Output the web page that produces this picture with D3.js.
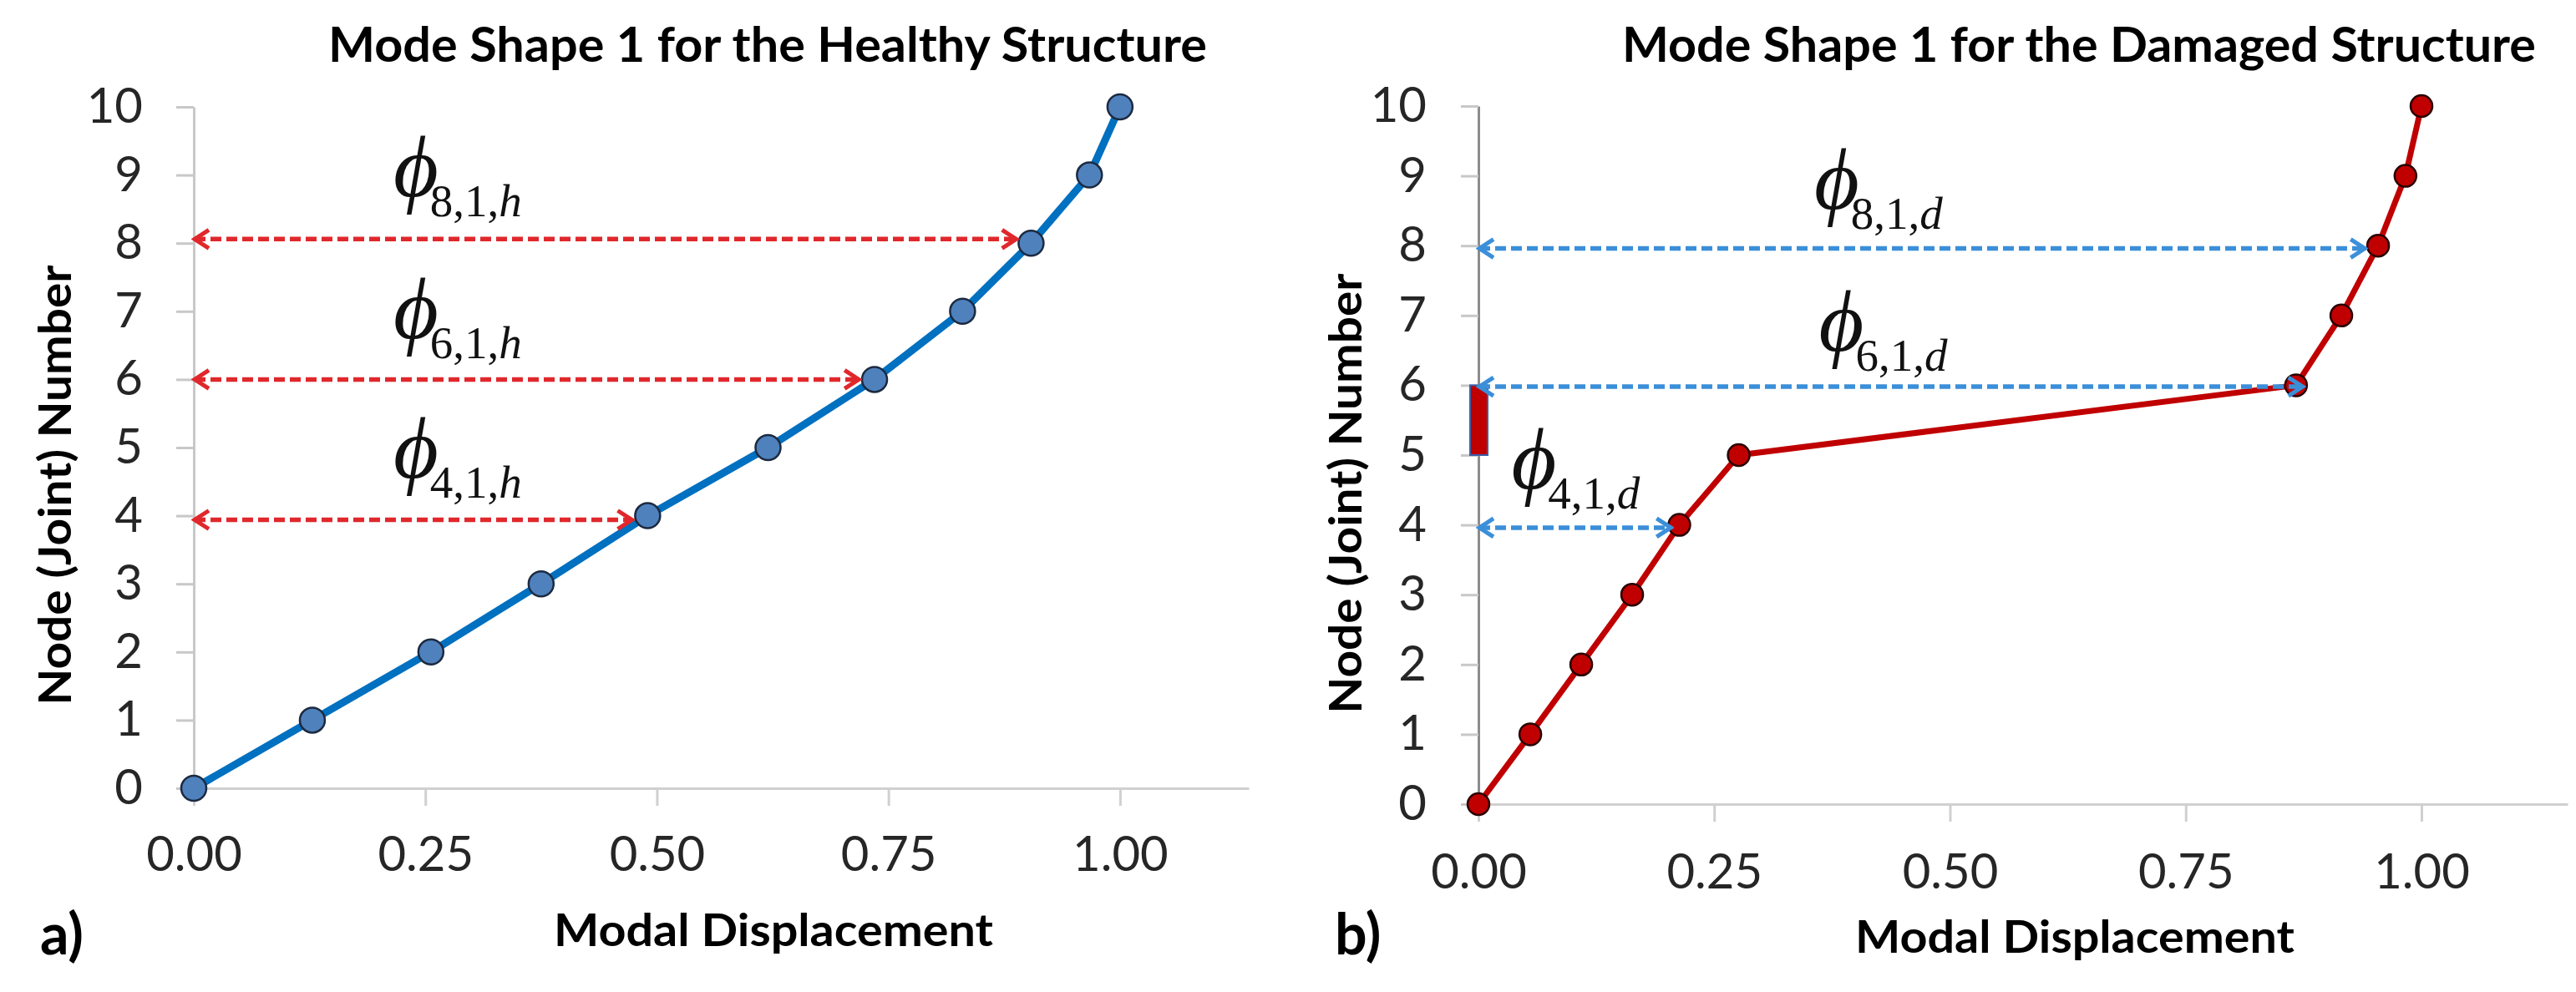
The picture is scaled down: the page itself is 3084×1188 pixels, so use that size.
<!DOCTYPE html>
<html>
<head>
<meta charset="utf-8">
<script src="https://cdn.jsdelivr.net/npm/d3@7"></script>
<style>
  body { margin: 0; background: #fff; }
  svg { display: block; }
  text { font-family: Lato, "Open Sans", sans-serif; }
</style>
</head>
<body>
<svg id="chart" width="3084" height="1188"></svg>
<script>
// node numbers (y) and modal displacements (x)
var nodes = [0, 1, 2, 3, 4, 5, 6, 7, 8, 9, 10];
var healthyDisp = [0, 0.128, 0.256, 0.375, 0.49, 0.62, 0.735, 0.83, 0.904, 0.967, 1.0];
var damagedDisp = [0, 0.055, 0.109, 0.163, 0.213, 0.276, 0.867, 0.915, 0.954, 0.983, 1.0];

var xTicks = [0, 0.25, 0.5, 0.75, 1.0];
var yTicks = [0, 1, 2, 3, 4, 5, 6, 7, 8, 9, 10];

// dimension arrows: node level and where the arrow stops
var healthyArrowNodes = [8.06, 6, 3.94];
var healthyArrowEnds = [0.888, 0.718, 0.473];
var damagedArrowNodes = [7.96, 5.98, 3.96];
var damagedArrowEnds = [0.94, 0.874, 0.204];

// phi labels: subscript text and anchor (displacement, node)
var phiSubs = ["8,1,", "6,1,", "4,1,"];
var healthyPhiX = [0.2155, 0.2155, 0.2155];
var healthyPhiY = [8.39, 6.31, 4.26];
var damagedPhiX = [0.356, 0.361, 0.035];
var damagedPhiY = [8.24, 6.21, 4.23];

// damaged storey marked on the axis
var damagedSpan = [5, 6];

var svg = d3.select("#chart");
svg.append("rect").attr("width", 3084).attr("height", 1188).attr("fill", "#fff");

function panel(o) {
  var x = d3.scaleLinear().domain([0, o.xMax]).range([o.left, o.right]);
  var y = d3.scaleLinear().domain([0, 10]).range([o.bottom, o.top]);
  var g = svg.append("g");

  // axes
  var xa = g.append("g")
    .attr("transform", "translate(0," + o.bottom + ")")
    .call(d3.axisBottom(x).tickValues(xTicks).tickSizeInner(21).tickSizeOuter(0)
      .tickPadding(o.xPad).tickFormat(d3.format(".2f")));
  xa.select(".domain").attr("stroke", "#d0d0d0").attr("stroke-width", 3);
  xa.selectAll(".tick line").attr("stroke", "#d0d0d0").attr("stroke-width", 3);
  xa.selectAll(".tick text").attr("font-size", 58).attr("fill", "#262626")
    .attr("font-family", "Lato, sans-serif");

  var ya = g.append("g")
    .attr("transform", "translate(" + o.left + ",0)")
    .call(d3.axisLeft(y).tickValues(yTicks).tickSizeInner(21).tickSizeOuter(0)
      .tickPadding(o.yPad).tickFormat(d3.format("d")));
  ya.select(".domain").attr("stroke", o.yAxisColor).attr("stroke-width", 3);
  ya.selectAll(".tick line").attr("stroke", "#c8c8c8").attr("stroke-width", 3);
  ya.selectAll(".tick text").attr("font-size", 58).attr("fill", "#262626")
    .attr("font-family", "Lato, sans-serif");

  // damaged storey bar
  if (o.span) {
    g.append("rect")
      .attr("x", x(0) - 10).attr("width", 21)
      .attr("y", y(o.span[1])).attr("height", y(o.span[0]) - y(o.span[1]))
      .attr("fill", "#c00000").attr("stroke", "#3b5ea8").attr("stroke-width", 2);
  }

  var pts = nodes.map(function(n, i) { return { node: n, disp: o.disp[i] }; });

  var line = d3.line()
    .x(function(d) { return x(d.disp); })
    .y(function(d) { return y(d.node); });

  g.append("path").datum(pts)
    .attr("d", line)
    .attr("fill", "none")
    .attr("stroke", o.lineColor)
    .attr("stroke-width", o.lineWidth)
    .attr("stroke-linejoin", "round");

  g.selectAll("circle.pt").data(pts).enter()
    .append("circle").attr("class", "pt")
    .attr("cx", function(d) { return x(d.disp); })
    .attr("cy", function(d) { return y(d.node); })
    .attr("r", o.r)
    .attr("fill", o.dotColor)
    .attr("stroke", o.dotStroke)
    .attr("stroke-width", 2.5);

  // arrow markers
  var mid = "arrow-" + o.id;
  svg.append("defs").append("marker")
    .attr("id", mid)
    .attr("viewBox", "-22 -15 26 30")
    .attr("refX", 0).attr("refY", 0)
    .attr("markerWidth", 26).attr("markerHeight", 30)
    .attr("markerUnits", "userSpaceOnUse")
    .attr("orient", "auto-start-reverse")
    .append("path")
    .attr("d", "M-17,-11L0,0L-17,11")
    .attr("fill", "none")
    .attr("stroke", o.arrowColor)
    .attr("stroke-width", 5);

  var arrows = o.arrowNodes.map(function(n, i) { return { node: n, end: o.arrowEnds[i] }; });
  g.selectAll("line.dim").data(arrows).enter()
    .append("line").attr("class", "dim")
    .attr("x1", x(0) + 1)
    .attr("x2", function(d) { return x(d.end); })
    .attr("y1", function(d) { return y(d.node); })
    .attr("y2", function(d) { return y(d.node); })
    .attr("stroke", o.arrowColor)
    .attr("stroke-width", 5.5)
    .attr("stroke-dasharray", "13,6")
    .attr("marker-start", "url(#" + mid + ")")
    .attr("marker-end", "url(#" + mid + ")");

  // phi labels
  phiSubs.forEach(function(s, i) {
    var t = g.append("text")
      .attr("x", x(o.phiX[i]))
      .attr("y", y(o.phiY[i]) - 24)
      .attr("fill", "#111")
      .style("font-family", "'Liberation Serif', 'DejaVu Serif', serif");
    t.append("tspan").attr("font-size", 104).attr("font-style", "italic").text("\u03D5");
    t.append("tspan").attr("font-size", 55).attr("dx", -10).attr("dy", 24).text(s);
    t.append("tspan").attr("font-size", 55).attr("font-style", "italic").text(o.sub);
  });

  // titles and labels
  g.append("text")
    .attr("x", o.titleX).attr("y", 74)
    .attr("font-size", 58).attr("font-weight", "bold").attr("fill", "#000")
    .attr("textLength", o.titleW).attr("lengthAdjust", "spacingAndGlyphs")
    .text(o.title);

  g.append("text")
    .attr("x", o.xLabelX).attr("y", o.xLabelY)
    .attr("font-size", 53).attr("font-weight", "bold").attr("fill", "#000")
    .attr("textLength", 526).attr("lengthAdjust", "spacingAndGlyphs")
    .text("Modal Displacement");

  g.append("text")
    .attr("transform", "translate(" + o.yLabelX + "," + o.yLabelY + ") rotate(-90)")
    .attr("text-anchor", "middle").attr("dy", "0.36em")
    .attr("font-size", 53).attr("font-weight", "bold").attr("fill", "#000")
    .attr("textLength", 527).attr("lengthAdjust", "spacingAndGlyphs")
    .text("Node (Joint) Number");

  g.append("text")
    .attr("x", o.tagX).attr("y", 1143)
    .attr("font-size", 68).attr("font-weight", "bold").attr("fill", "#000")
    .text(o.tag);
}

panel({
  id: "h", xMax: 1.139, left: 232, right: 1495, bottom: 944, top: 128,
  xPad: 37, yPad: 40, yAxisColor: "#c8c8c8",
  disp: healthyDisp, lineColor: "#0070c0", lineWidth: 9, r: 15,
  dotColor: "#4f81bd", dotStroke: "#1c2a40",
  arrowNodes: healthyArrowNodes, arrowEnds: healthyArrowEnds, arrowColor: "#e0282c",
  phiX: healthyPhiX, phiY: healthyPhiY, sub: "h",
  title: "Mode Shape 1 for the Healthy Structure", titleX: 393, titleW: 1052,
  xLabelX: 663, xLabelY: 1133, yLabelX: 66, yLabelY: 581,
  tag: "a)", tagX: 48
});

panel({
  id: "d", xMax: 1.155, left: 1770, right: 3074, bottom: 963, top: 127,
  xPad: 39, yPad: 41, yAxisColor: "#8c8c8c",
  disp: damagedDisp, lineColor: "#c00000", lineWidth: 7, r: 13,
  dotColor: "#c00000", dotStroke: "#2a0000",
  arrowNodes: damagedArrowNodes, arrowEnds: damagedArrowEnds, arrowColor: "#3b8fd9",
  phiX: damagedPhiX, phiY: damagedPhiY, sub: "d", span: damagedSpan,
  title: "Mode Shape 1 for the Damaged Structure", titleX: 1942, titleW: 1094,
  xLabelX: 2221, xLabelY: 1141, yLabelX: 1611, yLabelY: 591,
  tag: "b)", tagX: 1598
});
</script>
</body>
</html>
